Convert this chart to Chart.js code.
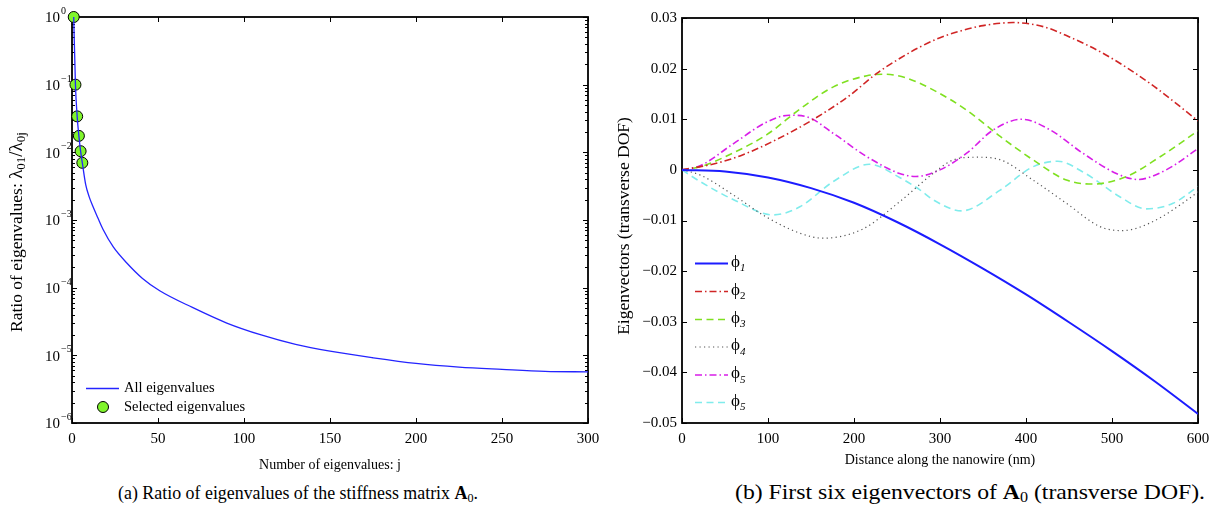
<!DOCTYPE html>
<html>
<head>
<meta charset="utf-8">
<script src="https://cdn.jsdelivr.net/npm/chart.js@4.4.1/dist/chart.umd.min.js"></script>
<style>
  html,body{margin:0;padding:0;background:#fff;}
  body{width:1218px;height:514px;position:relative;overflow:hidden;}
  canvas{position:absolute;top:0;}
  .cap{position:absolute;font-family:"Liberation Serif","DejaVu Serif",serif;color:#000;white-space:nowrap;transform-origin:0 0;}
  #capA{font-size:19.5px;top:480px;line-height:26px;}
  #capB{font-size:22px;top:479px;line-height:26px;}
  .cap sub{font-size:0.68em;vertical-align:-3px;line-height:0;}
</style>
</head>
<body>
<canvas id="c1" width="609" height="475" style="left:0;width:609px;height:475px"></canvas>
<canvas id="c2" width="609" height="475" style="left:609px;width:609px;height:475px"></canvas>
<div class="cap" id="capA">(a) Ratio of eigenvalues of the stiffness matrix <b>A</b><sub>0</sub>.</div>
<div class="cap" id="capB">(b) First six eigenvectors of <b>A</b><sub>0</sub> (transverse DOF).</div>
<script>
// ---------- Data: chart (a) ----------
const eigJ = [1,2,3,4,5,6,8,10,12,15,18,24,32,41,51,70,90,110,130,150,175,200,225,250,275,300];
const eigRatio = [1,0.1,0.034,0.0175,0.0104,0.0070,0.0033,0.0022,0.00162,0.00108,0.00073,0.00040,0.00023,0.000137,0.000090,0.000051,0.000030,0.000020,0.0000145,0.0000115,0.0000092,0.0000076,0.0000067,0.0000062,0.0000058,0.0000057];
const selJ = [1,2,3,4,5,6];
const selRatio = [1,0.1,0.034,0.0175,0.0104,0.0070];
const xTicksA = [0,50,100,150,200,250,300];
const yDecadesA = [-6,-5,-4,-3,-2,-1,0];

// ---------- Data: chart (b) ----------
const x1 = [0,50,100,150,200,250,300,350,400,450,500,550,600];
const phi1 = [0,-0.0003,-0.0015,-0.0036,-0.0065,-0.0103,-0.0147,-0.0195,-0.0246,-0.0301,-0.0358,-0.0418,-0.0482];
const x2 = [0,40,71,110,153,195,226,253,277,300,325,350,385,420,450,493,544,600];
const phi2 = [0,0.0013,0.0030,0.0060,0.0100,0.0147,0.0190,0.0220,0.0243,0.0261,0.0275,0.0285,0.0291,0.0283,0.0263,0.0227,0.0171,0.0097];
const x3 = [0,21,60,99,137,176,215,235,260,292,331,370,408,447,478,517,556,600];
const phi3 = [0,0.0006,0.0034,0.0070,0.0120,0.0164,0.0186,0.0189,0.0182,0.0158,0.0118,0.0066,0.0020,-0.0020,-0.0028,-0.0013,0.0026,0.0077];
const x4 = [0,21,60,98,137,164,210,253,292,316,343,370,408,447,486,512,544,595,600];
const phi4 = [0,-0.0010,-0.0050,-0.0093,-0.0125,-0.0135,-0.0117,-0.0063,-0.0007,0.0020,0.0025,0.0020,-0.0020,-0.0066,-0.0112,-0.0120,-0.0105,-0.0050,-0.0043];
const x5 = [0,21,60,98,125,145,176,215,253,272,300,331,362,395,428,466,505,530,563,600];
const phi5 = [0,0.0008,0.0052,0.0094,0.0108,0.0105,0.0072,0.0026,-0.0007,-0.0013,0.0000,0.0033,0.0079,0.0100,0.0079,0.0033,-0.0007,-0.0019,0.0000,0.0042];
const x6 = [0,21,60,106,137,176,218,253,277,292,325,370,408,437,469,509,540,571,600];
const phi6 = [0,-0.0023,-0.0059,-0.0089,-0.0073,-0.0023,0.0011,-0.0015,-0.0040,-0.0059,-0.0081,-0.0040,0.0006,0.0017,-0.0007,-0.0053,-0.0077,-0.0066,-0.0033];
const legendSubs = ['1','2','3','4','5','5'];
const xTicksB = [0,100,200,300,400,500,600];
const yTicksB = [-0.05,-0.04,-0.03,-0.02,-0.01,0,0.01,0.02,0.03];

// ---------- helpers ----------
const SERIF = '"Liberation Serif","Times New Roman",serif';
const pts = (xs, ys) => xs.map((x,i)=>({x:x, y:ys[i]}));

function richWidth(ctx, segs){
  let w=0; for(const s of segs){ctx.font=s.font; w+=ctx.measureText(s.t).width;} return w;
}
function drawRich(ctx, segs, x, y){
  let cx=x;
  for(const s of segs){ctx.font=s.font; ctx.fillText(s.t, cx, y+(s.dy||0)); cx+=ctx.measureText(s.t).width;}
}

// ---------- chart (a) ----------
const plugA = {
  id:'plugA',
  beforeDatasetsDraw(chart){
    const {ctx, chartArea:a, scales:{x,y}} = chart;
    ctx.save();
    ctx.strokeStyle='#000';
    ctx.lineWidth=1;
    for(const v of xTicksA){
      const px=Math.round(x.getPixelForValue(v))+0.5;
      ctx.beginPath();
      ctx.moveTo(px,a.bottom); ctx.lineTo(px,a.bottom-5);
      ctx.moveTo(px,a.top); ctx.lineTo(px,a.top+5);
      ctx.stroke();
    }
    for(const k of yDecadesA){
      for(let m=1;m<=9;m++){
        const v=m*Math.pow(10,k);
        if(v>1.0000001) break;
        const py=Math.round(y.getPixelForValue(v))+0.5;
        const L = m===1?5:3;
        ctx.beginPath();
        ctx.moveTo(a.left,py); ctx.lineTo(a.left+L,py);
        ctx.moveTo(a.right,py); ctx.lineTo(a.right-L,py);
        ctx.stroke();
      }
    }
    ctx.lineWidth=1.8;
    ctx.strokeRect(a.left, a.top, a.right-a.left, a.bottom-a.top);
    ctx.restore();
  },
  afterDraw(chart){
    const {ctx, chartArea:a, scales:{x,y}} = chart;
    ctx.save();
    ctx.fillStyle='#000';
    ctx.textBaseline='middle';
    for(const k of yDecadesA){
      const py=y.getPixelForValue(Math.pow(10,k));
      ctx.font='15px '+SERIF; ctx.textAlign='right';
      ctx.fillText('10', a.left-12, py+1.5);
      ctx.font='10px '+SERIF; ctx.textAlign='left';
      ctx.fillText(k===0?'0':'\u2212'+Math.abs(k), a.left-11, py-5.5);
    }
    ctx.font='14px '+SERIF; ctx.textAlign='center'; ctx.textBaseline='middle';
    ctx.fillText('Number of eigenvalues: j', (a.left+a.right)/2, 465);
    const segs=[
      {t:'Ratio of eigenvalues: ', font:'17.5px '+SERIF},
      {t:'\u03bb', font:'19px '+SERIF},
      {t:'01', font:'13px '+SERIF, dy:5},
      {t:'/\u03bb', font:'19px '+SERIF},
      {t:'0j', font:'13px '+SERIF, dy:5}
    ];
    ctx.textAlign='left'; ctx.textBaseline='middle';
    const w=richWidth(ctx,segs);
    ctx.translate(17, 232); ctx.rotate(-Math.PI/2);
    drawRich(ctx, segs, -w/2, 0);
    ctx.restore();
    ctx.save();
    const ds0=chart.data.datasets[0], ds1=chart.data.datasets[1];
    ctx.strokeStyle=ds0.borderColor; ctx.lineWidth=ds0.borderWidth;
    ctx.beginPath(); ctx.moveTo(86,388.5); ctx.lineTo(119,388.5); ctx.stroke();
    ctx.beginPath(); ctx.arc(103,407,5.5,0,Math.PI*2);
    ctx.fillStyle=ds1.pointBackgroundColor; ctx.fill();
    ctx.strokeStyle='#000'; ctx.lineWidth=1; ctx.stroke();
    ctx.fillStyle='#000'; ctx.font='14.5px '+SERIF; ctx.textAlign='left'; ctx.textBaseline='middle';
    ctx.fillText('All eigenvalues', 124, 388.5);
    ctx.fillText('Selected eigenvalues', 124, 407.5);
    ctx.restore();
  }
};

new Chart(document.getElementById('c1'), {
  type:'line',
  data:{datasets:[
    {label:'All eigenvalues', data:pts(eigJ,eigRatio), borderColor:'#2424ff', borderWidth:1.3,
     pointRadius:0, cubicInterpolationMode:'monotone', fill:false},
    {label:'Selected eigenvalues', data:pts(selJ,selRatio), showLine:false, pointRadius:5.5,
     pointBackgroundColor:'#80f52c', pointBorderColor:'#000', pointBorderWidth:1, clip:false}
  ]},
  options:{
    responsive:false, animation:false,
    layout:{padding:{top:17,right:21,left:0,bottom:0}},
    plugins:{legend:{display:false}, tooltip:{enabled:false}},
    scales:{
      x:{type:'linear', min:0, max:300,
         afterBuildTicks(s){ s.ticks = xTicksA.map(v=>({value:v})); },
         ticks:{font:{family:SERIF,size:15}, color:'#000', padding:7, maxRotation:0, autoSkip:false},
         grid:{display:false, drawTicks:false}, border:{display:false},
         afterFit(s){ s.height=52; }},
      y:{type:'logarithmic', min:1e-6, max:1,
         ticks:{display:false}, grid:{display:false, drawTicks:false}, border:{display:false},
         afterFit(s){ s.width=72; }}
    }
  },
  plugins:[plugA]
});

// ---------- chart (b) ----------
const seriesB = [
  {xs:x1, ys:phi1, color:'#1c1cff', width:2, dash:[]},
  {xs:x2, ys:phi2, color:'#d02525', width:1.6, dash:[7,3,1.5,3]},
  {xs:x3, ys:phi3, color:'#7fe020', width:1.6, dash:[7,4.5]},
  {xs:x4, ys:phi4, color:'#555555', width:1.2, dash:[1.2,3.3]},
  {xs:x5, ys:phi5, color:'#d81ee8', width:1.6, dash:[7,3,1.5,3]},
  {xs:x6, ys:phi6, color:'#80ecec', width:1.6, dash:[7,4.5]}
];

const plugB = {
  id:'plugB',
  beforeDatasetsDraw(chart){
    const {ctx, chartArea:a, scales:{x,y}} = chart;
    ctx.save(); ctx.strokeStyle='#000'; ctx.lineWidth=1;
    for(const v of xTicksB){
      const px=Math.round(x.getPixelForValue(v))+0.5;
      ctx.beginPath();
      ctx.moveTo(px,a.bottom); ctx.lineTo(px,a.bottom-5);
      ctx.moveTo(px,a.top); ctx.lineTo(px,a.top+5);
      ctx.stroke();
    }
    for(const v of yTicksB){
      const py=Math.round(y.getPixelForValue(v))+0.5;
      ctx.beginPath();
      ctx.moveTo(a.left,py); ctx.lineTo(a.left+5,py);
      ctx.moveTo(a.right,py); ctx.lineTo(a.right-5,py);
      ctx.stroke();
    }
    ctx.lineWidth=1.8;
    ctx.strokeRect(a.left, a.top, a.right-a.left, a.bottom-a.top);
    ctx.restore();
  },
  afterDraw(chart){
    const {ctx, chartArea:a} = chart;
    ctx.save(); ctx.fillStyle='#000';
    ctx.font='14px '+SERIF; ctx.textAlign='center'; ctx.textBaseline='middle';
    ctx.fillText('Distance along the nanowire (nm)', (a.left+a.right)/2, 460);
    ctx.font='17.5px '+SERIF;
    ctx.translate(15, 226); ctx.rotate(-Math.PI/2);
    ctx.fillText('Eigenvectors (transverse DOF)', 0, 0);
    ctx.restore();
    ctx.save();
    const ys=[263,291,319,346.5,374.5,402];
    chart.data.datasets.forEach((ds,i)=>{
      const yy=ys[i]+0.5;
      ctx.strokeStyle=ds.borderColor; ctx.lineWidth=ds.borderWidth; ctx.setLineDash(ds.borderDash||[]);
      ctx.beginPath(); ctx.moveTo(86,yy); ctx.lineTo(119,yy); ctx.stroke();
      ctx.setLineDash([]);
      ctx.fillStyle='#000'; ctx.textAlign='left'; ctx.textBaseline='middle';
      ctx.font='17px '+SERIF; ctx.fillText('\u03d5', 122, yy-1);
      const wphi=ctx.measureText('\u03d5').width;
      ctx.font=(legendSubs[i]==='2'?'':'italic ')+'11px '+SERIF;
      ctx.fillText(legendSubs[i], 122+wphi, yy+5);
    });
    ctx.restore();
  }
};

new Chart(document.getElementById('c2'), {
  type:'line',
  data:{datasets: seriesB.map((s,i)=>({
    label:'phi'+(i+1), data:pts(s.xs,s.ys), borderColor:s.color, borderWidth:s.width,
    borderDash:s.dash, pointRadius:0, cubicInterpolationMode:'monotone', fill:false
  }))},
  options:{
    responsive:false, animation:false,
    layout:{padding:{top:18,right:20,left:0,bottom:0}},
    plugins:{legend:{display:false}, tooltip:{enabled:false}},
    scales:{
      x:{type:'linear', min:0, max:600,
         afterBuildTicks(s){ s.ticks = xTicksB.map(v=>({value:v})); },
         ticks:{font:{family:SERIF,size:15}, color:'#000', padding:7, maxRotation:0, autoSkip:false},
         grid:{display:false, drawTicks:false}, border:{display:false},
         afterFit(s){ s.height=52; }},
      y:{type:'linear', min:-0.05, max:0.03,
         afterBuildTicks(s){ s.ticks = yTicksB.map(v=>({value:v})); },
         ticks:{font:{family:SERIF,size:15}, color:'#000', padding:5, autoSkip:false,
           callback:(v)=> Math.abs(v)<1e-9 ? '0' : (v<0?'\u2212':'')+Math.abs(v).toFixed(2)},
         grid:{display:false, drawTicks:false}, border:{display:false},
         afterFit(s){ s.width=73; }}
    }
  },
  plugins:[plugB]
});

function fitCap(id, left, right){
  const el=document.getElementById(id);
  const w=el.getBoundingClientRect().width;
  el.style.left=left+'px';
  el.style.transform='scaleX('+((right-left)/w)+')';
}
fitCap('capA',118,478);
fitCap('capB',735,1205);
</script>
</body>
</html>
